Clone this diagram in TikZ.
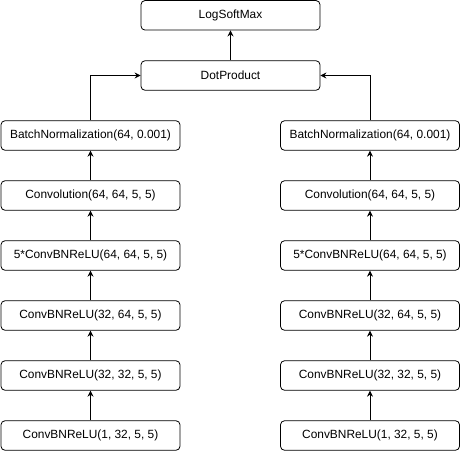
\documentclass[tikz,border=0pt]{standalone}
\usepackage{fontspec}
\setmainfont{Liberation Sans}
\usetikzlibrary{arrows.meta}
\begin{document}
\begin{tikzpicture}[x=1pt,y=1pt,
  box/.style={draw=black, line width=0.8pt, rounded corners=4pt, minimum width=179pt, minimum height=29.5pt, inner sep=0pt, fill=white, font=\fontsize{11.9}{14}\selectfont},
  arr/.style={draw=black, line width=0.8pt, -{Stealth[length=6pt,width=6pt,inset=2pt]}}]
\useasboundingbox (0,0) rectangle (461,-451);
\node[box] (lsm) at (230.5,-15.3) {LogSoftMax};
\node[box] (dp) at (230.5,-75.5) {DotProduct};
\foreach \s/\x in {l/90.5, r/370} {
  \node[box] (bn\s) at (\x,-135.5) {BatchNormalization(64, 0.001)};
  \node[box] (cv\s) at (\x,-195.5) {Convolution(64, 64, 5, 5)};
  \node[box] (c5\s) at (\x,-255.5) {5*ConvBNReLU(64, 64, 5, 5)};
  \node[box] (c4\s) at (\x,-315.5) {ConvBNReLU(32, 64, 5, 5)};
  \node[box] (c3\s) at (\x,-375.5) {ConvBNReLU(32, 32, 5, 5)};
  \node[box] (c1\s) at (\x,-435.5) {ConvBNReLU(1, 32, 5, 5)};
  \draw[arr] (c1\s) -- (c3\s);
  \draw[arr] (c3\s) -- (c4\s);
  \draw[arr] (c4\s) -- (c5\s);
  \draw[arr] (c5\s) -- (cv\s);
  \draw[arr] (cv\s) -- (bn\s);
}
\draw[arr] (bnl.north) |- (dp.west);
\draw[arr] (bnr.north) |- (dp.east);
\draw[arr] (dp) -- (lsm);
\end{tikzpicture}
\end{document}
